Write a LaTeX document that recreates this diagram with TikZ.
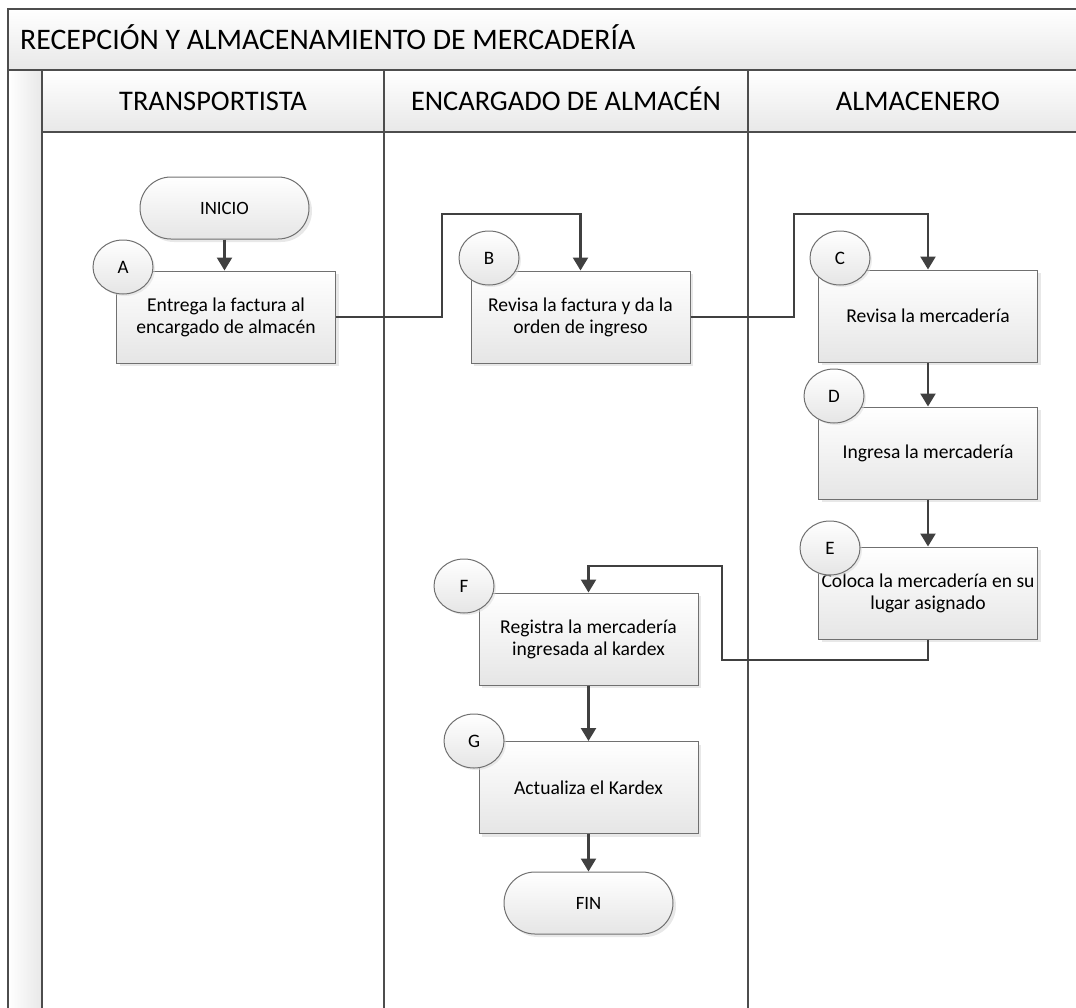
\documentclass[tikz,border=0pt]{standalone}
\usepackage{fontspec}
\setmainfont{Carlito}
\usetikzlibrary{arrows.meta,shapes.geometric,shadows}

\definecolor{linegray}{HTML}{4D4D4D}
\definecolor{edgegray}{HTML}{707070}
\definecolor{flowgray}{HTML}{404040}

\tikzset{
  band/.style={draw=linegray, line width=2pt, top color=white, bottom color=black!9},
  strip/.style={draw=linegray, line width=2pt, left color=white, right color=black!9},
  lane/.style={draw=linegray, line width=2pt},
  pooltitle/.style={font=\fontsize{29.8}{34}\selectfont, inner sep=0pt, anchor=base west},
  lanetitle/.style={font=\fontsize{28.4}{32}\selectfont, inner sep=0pt, anchor=base},
  task/.style={rectangle, draw=edgegray, line width=1pt, top color=white, bottom color=black!10,
    minimum width=219pt, minimum height=92pt, align=center, inner sep=2pt,
    font=\fontsize{19.6}{22}\selectfont,
    drop shadow={shadow xshift=3pt, shadow yshift=-3pt, fill=black!18}},
  term/.style={rectangle, rounded corners=31pt, draw=edgegray, line width=1pt, top color=white,
    bottom color=black!10, minimum width=169pt, minimum height=62pt,
    font=\fontsize{18.8}{21}\selectfont,
    drop shadow={shadow xshift=3pt, shadow yshift=-3pt, fill=black!18}},
  tag/.style={ellipse, draw=edgegray, line width=1pt, top color=white, bottom color=black!10,
    minimum width=60pt, minimum height=54pt, inner sep=0pt, font=\fontsize{19}{21}\selectfont,
    drop shadow={shadow xshift=2pt, shadow yshift=-2pt, fill=black!15}},
  flow/.style={draw=flowgray, line width=2.4pt, -{Triangle[width=15pt,length=13pt]}}
}

\begin{document}
\begin{tikzpicture}[x=1pt,y=-1pt]
  \useasboundingbox (0,0) rectangle (1076,1007);
  \clip (0,0) rectangle (1076,1007);
  % Pool
  \draw[band] (8,9) rectangle (1088,70);
  \node[pooltitle] (pool) at (20,49.5) {RECEPCIÓN Y ALMACENAMIENTO DE MERCADERÍA};
  \draw[strip] (8,70) rectangle (42,1020);
  % Lanes
  \foreach \xa/\xb/\lname/\ltext in {42/384/trans/TRANSPORTISTA, 384/748/encar/ENCARGADO DE ALMACÉN, 748/1088/almac/ALMACENERO}{
    \draw[band] (\xa,70) rectangle (\xb,132);
    \draw[lane] (\xa,132) rectangle (\xb,1020);
    \node[lanetitle] (\lname) at ({(\xa+\xb)/2},110) {\ltext};
  }
  % Steps
  \node[term] (inicio) at (224.5,208) {INICIO};
  \node[task] (A) at (226,317) {Entrega la factura al\\encargado de almacén};
  \node[task] (B) at (580.5,317) {Revisa la factura y da la\\orden de ingreso};
  \node[task] (C) at (928,316) {Revisa la mercadería};
  \node[task] (D) at (928,453) {Ingresa la mercadería};
  \node[task] (E) at (928,593) {Coloca la mercadería en su\\lugar asignado};
  \node[task] (F) at (588.5,639) {Registra la mercadería\\ingresada al kardex};
  \node[task] (G) at (588.5,787.5) {Actualiza el Kardex};
  \node[term] (fin) at (588.5,903) {FIN};
  % Connectors
  \draw[flow] (inicio.south) -- (inicio.south |- A.north);
  \draw[flow] (A.east) -| (442,214) -| (B.north);
  \draw[flow] (B.east) -| (794,214) -| (C.north);
  \draw[flow] (C) -- (D);
  \draw[flow] (D) -- (E);
  \draw[flow] (E.south) |- (722,660) -- (722,566) -| (F.north);
  \draw[flow] (F) -- (G);
  \draw[flow] (G.south) -- (G.south |- fin.north);
  % Step letters
  \node[tag] (tA) at (123,267) {A};
  \node[tag] (tB) at (489,258) {B};
  \node[tag] (tC) at (840,258) {C};
  \node[tag] (tD) at (834,396) {D};
  \node[tag] (tE) at (830,548) {E};
  \node[tag] (tF) at (464,586) {F};
  \node[tag] (tG) at (474,741) {G};
\end{tikzpicture}
\end{document}
